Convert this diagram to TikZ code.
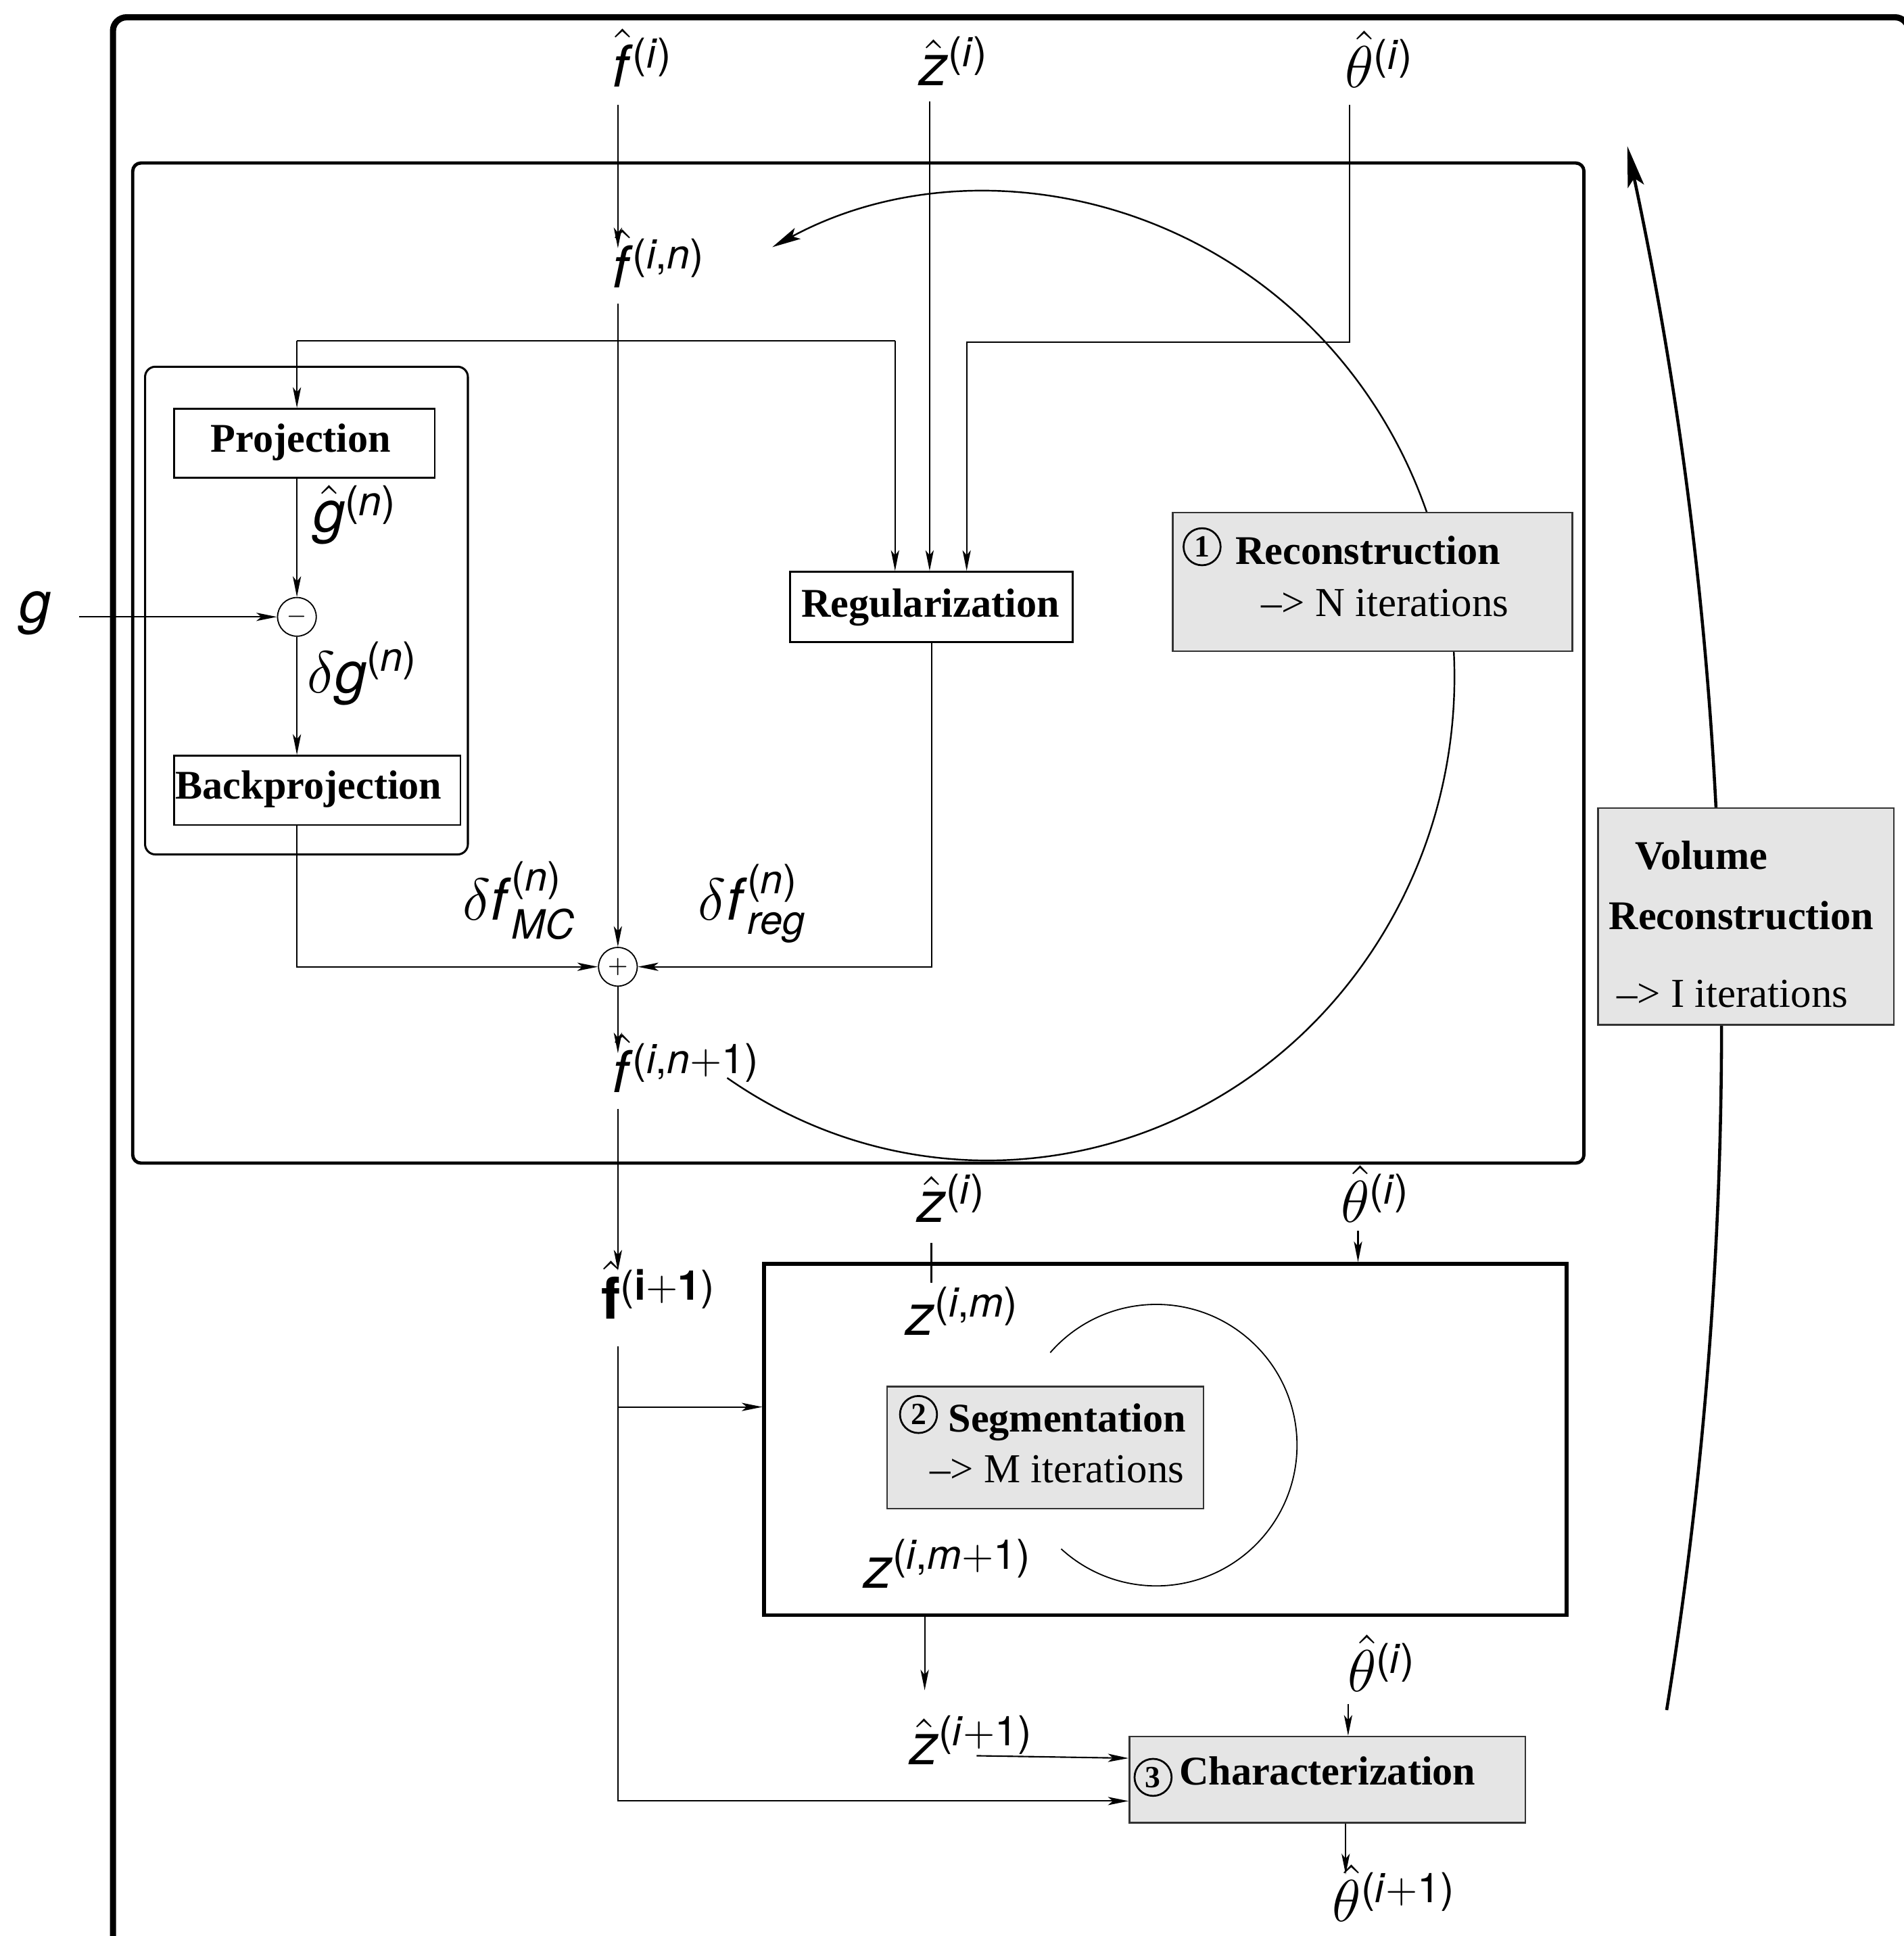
\documentclass[tikz,border=0pt]{standalone}
\usepackage{amsmath}
\usepackage[no-math]{fontspec}
\setmainfont{Liberation Serif}
\newfontfamily\hv{TeX Gyre Heros}
\usetikzlibrary{arrows.meta,calc,fit}
\newcommand\hf[1]{\text{\hv\itshape #1\/}}
\newcommand\hs[1]{\text{\hv\upshape #1}}
\newcommand\sups[2][4.5pt]{\raisebox{#1}{\fontsize{10}{12}\selectfont\hv #2}}
\tikzset{
  conn/.style={line width=0.35pt},
  arr/.style={conn,-{Stealth[length=5pt,width=2pt,inset=1.2pt]}},
  lbl/.style={inner sep=0pt,anchor=base west,font=\fontsize{14}{16}\selectfont},
  whitebox/.style={draw,line width=0.4pt,inner sep=0pt},
  graybox/.style={draw=black!80,fill=black!10,line width=0.4pt,inner sep=0pt},
  boxtxt/.style={inner sep=0pt,anchor=base west,font=\fontsize{10}{12}\selectfont},
  boxbold/.style={boxtxt,font=\bfseries\fontsize{9.9}{12}\selectfont},
  circnum/.style={circle,draw,line width=0.45pt,inner sep=0pt,minimum size=9pt,font=\bfseries\fontsize{7.5}{8}\selectfont},
  opcirc/.style={circle,draw,line width=0.3pt,inner sep=0pt,minimum size=9.4pt,font=\fontsize{5.5}{6}\selectfont},
}
\begin{document}
\begin{tikzpicture}[x=0.3pt,y=-0.3pt]
\useasboundingbox (0,0) rectangle (1542,1568);

% frames
\node[draw,line width=1.5pt,rounded corners=3.3pt,inner sep=0pt,fit={(91.5,14) (1546,1600)}] (outer) {};
\node[draw,line width=0.8pt,rounded corners=2pt,inner sep=0pt,fit={(107.5,132) (1283,942)}] (inner) {};
\node[draw,line width=0.5pt,rounded corners=2.5pt,inner sep=0pt,fit={(117.5,297) (379,692)}] (projsys) {};
\node[draw,line width=0.9pt,inner sep=0pt,fit={(619,1023.6) (1269,1308)}] (seg) {};

% white boxes
\node[whitebox,fit={(141,331) (352,387)}] (proj) {};
\node[whitebox,fit={(141,612) (373,668)}] (bp) {};
\node[whitebox,fit={(640,463) (869,520)}] (reg) {};
\node[boxbold] (tProj) at (170,366.3) {Projection};
\node[boxbold] (tBp) at (141.5,647) {Backprojection};
\node[boxbold] (tReg) at (648.5,499.6) {Regularization};

% operator circles
\node[opcirc] (minus) at (240.5,499.6) {$-$};
\node[opcirc] (plus) at (500.5,783) {$+$};

% arcs (behind grey boxes)
\coordinate (rs) at (589,873);
\draw[line width=0.4pt,-{Stealth[length=7pt,width=3pt,inset=1.5pt]}] (rs) arc[start angle=236.05,end angle=477.5,x radius=113.4pt,y radius=117.6pt];
\coordinate (ss) at (850.7,1095.5);
\draw[line width=0.3pt] (ss) arc[start angle=138.9,end angle=-132.5,radius=34.2pt];
\coordinate (vs) at (1350,1385);
\draw[line width=0.75pt,-{Stealth[length=10pt,width=4pt,inset=2pt]}] (vs) arc[start angle=-9.18,end angle=12.07,radius=1031pt];

% grey boxes
\node[graybox,fit={(950,415) (1273.6,527.5)}] (recon) {};
\node[graybox,fit={(1294.5,654.4) (1534,830)}] (vol) {};
\node[graybox,fit={(718.5,1123) (975,1222)}] (segbox) {};
\node[graybox,fit={(914.8,1406.4) (1235.5,1476.2)}] (char) {};

% grey box texts
\node[circnum] (c1) at (973.7,442.8) {1};
\node[boxbold] (tRecon) at (1000,457) {Reconstruction};
\node[boxtxt] (tN) at (1021,499) {\textendash{}> N iterations};
\node[boxbold] (tVol) at (1324,704) {Volume};
\node[boxbold] (tVRec) at (1302.6,753) {Reconstruction};
\node[boxtxt] (tI) at (1309,816) {\textendash{}> I iterations};
\node[circnum] (c2) at (744,1145.6) {2};
\node[boxbold] (tSeg) at (767.5,1159.5) {Segmentation};
\node[boxtxt] (tM) at (752.6,1201) {\textendash{}> M iterations};
\node[circnum] (c3) at (934,1439.5) {3};
\node[boxbold] (tChar) at (954.5,1445.6) {Characterization};

% labels
\node[lbl] (Lfi) at (495,70.3) {$\hat{\hf{f}}$\sups[4.6pt]{(\textit{i})}};
\node[lbl] (Lzi) at (744,69) {$\hat{\hf{z}}$\sups{(\textit{i})}};
\node[lbl] (Lthi) at (1089,71) {$\hat{\theta}$\sups{(\textit{i})}};
\node[lbl] (Lfin) at (495,233) {$\hat{\hf{f}}$\sups[4.6pt]{(\textit{i},\textit{n})}};
\node[lbl] (Lgh) at (253,431) {$\hat{\hf{g}}$\sups[4pt]{(\textit{n})}};
\node[lbl] (Lg) at (15,504) {$\hf{g}$};
\node[lbl] (Ldg) at (248,561) {$\delta\hf{g}^{\hs{(\textit{n})}}$};
\node[lbl] (Ldfmc) at (374,745) {$\delta\hf{f}^{\hs{(\textit{n})}}_{\hf{MC}}$};
\node[lbl] (Ldfreg) at (565,745) {$\delta\hf{f}^{\hs{(\textit{n})}}_{\hf{reg}}$};
\node[lbl] (Lfinp) at (495,884.7) {$\hat{\hf{f}}$\sups[4.6pt]{(\textit{i},\textit{n}$+$1)}};
\node[lbl] (Lfip) at (486.5,1068) {$\hat{\text{\hv\bfseries f}}$\sups{(\textbf{i}$+$\textbf{1})}};
\node[lbl] (Lzi2) at (742,990) {$\hat{\hf{z}}$\sups{(\textit{i})}};
\node[lbl] (Lthi2) at (1085.7,990) {$\hat{\theta}$\sups{(\textit{i})}};
\node[lbl] (Lzim) at (733,1081.6) {$\hf{z}$\sups{(\textit{i},\textit{m})}};
\node[lbl] (Lzim1) at (699,1286) {$\hf{z}$\sups{(\textit{i},\textit{m}$+$1)}};
\node[lbl] (Lzip) at (736,1429) {$\hat{\hf{z}}$\sups{(\textit{i}$+$1)}};
\node[lbl] (Lthi3) at (1091,1370) {$\hat{\theta}$\sups{(\textit{i})}};
\node[lbl] (Lthip) at (1078.6,1556) {$\hat{\theta}$\sups{(\textit{i}$+$1)}};

% connectors: reconstruction loop
\coordinate (fiB) at (500.5,85);
\coordinate (finT) at (500.5,201);
\draw[arr] (fiB) -- (finT);
\coordinate (finB) at (500.5,246);
\draw[arr] (finB) -- (plus.north);
\coordinate (finpT) at (500.5,853);
\draw[arr] (plus.south) -- (finpT);
\coordinate (finpB) at (500.5,898);
\coordinate (fipT) at (500.5,1029);
\draw[arr] (finpB) -- (fipT);

\coordinate (jl) at (240.5,276);
\coordinate (jr) at (725,276);
\draw[conn] (jl) -- (jr);
\draw[arr] (jl) -- (jl |- proj.north);
\draw[arr] (jr) -- (jr |- reg.north);
\coordinate (ziB) at (753,82);
\draw[arr] (ziB) -- (ziB |- reg.north);
\coordinate (thiB) at (1093,85);
\coordinate (thK) at (783,277);
\draw[arr] (thiB) |- (thK) -- (thK |- reg.north);

\draw[arr] (minus |- proj.south) -- (minus.north);
\coordinate (gR) at (64,499.6);
\draw[arr] (gR) -- (minus.west);
\draw[arr] (minus.south) -- (minus |- bp.north);
\draw[arr] (minus |- bp.south) |- (plus.west);
\draw[arr] (reg.south) |- (plus.east);

% segmentation / characterization
\coordinate (fipB) at (500.5,1090.6);
\draw[arr] (fipB) |- ([yshift=5.46pt]char.south west);
\coordinate (br) at (500.5,1139.5);
\draw[arr] (br) -- (br -| seg.west);
\coordinate (zi2B) at (754.4,1006.5);
\coordinate (zi2E) at (754.4,1039);
\draw[conn] (zi2B) -- (zi2E);
\coordinate (th2B) at (1100,997);
\draw[arr] (th2B) -- (th2B |- seg.north);
\coordinate (segOut) at (749,1369);
\draw[arr] (segOut |- seg.south) -- (segOut);
\coordinate (zipR) at (791,1422);
\draw[arr] (zipR) -- ([yshift=5.2pt]char.west);
\coordinate (th3B) at (1092,1380);
\draw[arr] (th3B) -- (th3B |- char.north);
\coordinate (thpT) at (1090,1518);
\draw[arr] (thpT |- char.south) -- (thpT);
\end{tikzpicture}
\end{document}
